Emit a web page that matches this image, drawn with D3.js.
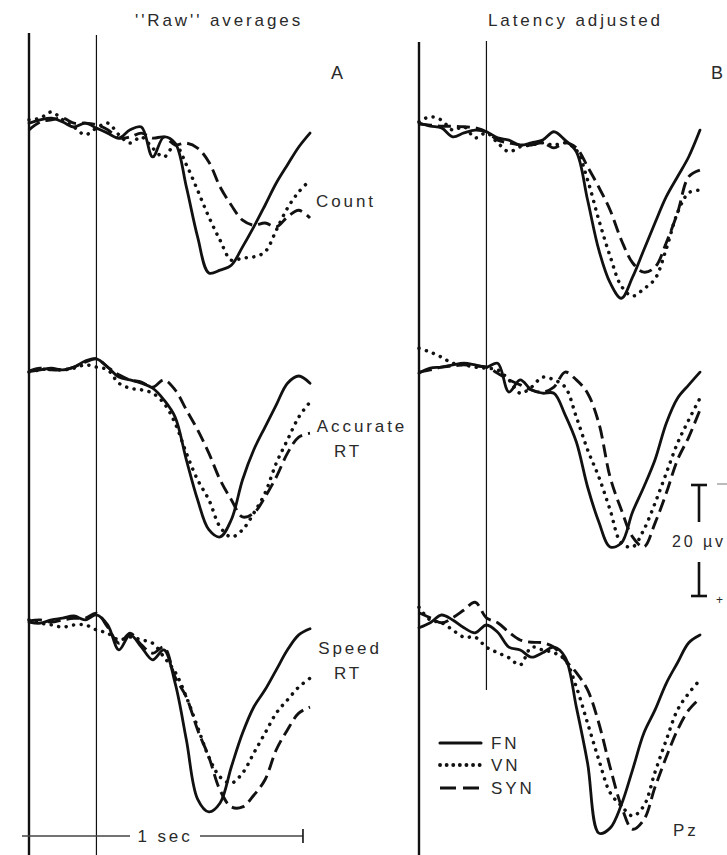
<!DOCTYPE html>
<html><head><meta charset="utf-8">
<script src="https://cdn.jsdelivr.net/npm/d3@7"></script>
<style>
html,body{margin:0;padding:0;background:#fff;}
svg{display:block;}
text{font-family:"Liberation Sans",Arial,sans-serif;fill:#2a2a2a;letter-spacing:2.9px;}
</style></head>
<body><svg id="c" width="727" height="855"></svg>
<script>
// time grid (ms, relative to stimulus onset)
const times = [-240,-200,-160,-120,-80,-40,0,40,80,120,160,200,240,280,320,360,400,440,480,520,560,600,640,680,720,760];

// Panel A, "Raw" averages (µV, positive plotted downward)
const FN_A_count = [0.2,-0.4,-0.7,0,0.9,0.2,1.1,2.0,2.9,1.4,0.9,6.3,2.7,3.8,11.7,20.7,27.2,26.7,25.8,22.5,18.9,15.0,11.0,7.7,4.5,2.0];
const VN_A_count = [-0.4,-0.7,-1.8,-0.4,0.9,2.3,1.1,0.2,2.3,3.8,2.7,4.7,6.3,4.1,7.7,12.3,17.1,21.3,24.9,24.5,24.3,23.4,19.5,15.5,12.6,10.5];
const SYN_A_count = [1.4,0,-0.4,-0.7,0.2,0.2,0.5,1.4,2.9,2.7,2.0,2.9,2.7,4.1,3.8,4.7,7.2,11.7,15.0,17.7,18.6,18.2,18.9,17.1,15.9,17.3];

const FN_A_acc = [0.1,-0.2,-0.5,-0.2,-0.7,-1.8,-2.2,-0.7,1.1,1.6,2.2,3.1,5.2,8.3,16.0,23.2,28.6,29.9,26.8,19.6,14.2,10.1,6.1,2.2,0.9,2.2];
const VN_A_acc = [0.2,-0.2,-0.4,-0.2,-0.5,-1.1,-0.7,-0.2,2.2,3.1,3.4,4.0,5.8,9.4,14.8,19.6,23.2,28.1,29.9,28.6,25.6,22.0,16.6,12.4,8.3,5.6];
const SYN_A_acc = [0,-0.5,-0.2,-0.2,-0.7,-1.6,-2.2,-0.7,0.7,1.6,2.0,2.9,1.6,3.4,7.0,10.6,14.8,19.6,23.2,26.3,25.6,22.7,19.1,14.8,11.9,11.2];

const FN_A_speed = [0.2,0.4,-0.2,-0.5,-0.9,-0.2,-1.1,0.7,5.2,2.5,4.7,7.0,5.2,11.2,21.4,32.1,34.4,32.8,26.3,20.2,15.5,12.4,8.8,5.2,2.5,1.4];
const VN_A_speed = [-0.2,0.4,0.7,1.1,0.7,0.7,1.6,2.2,3.4,2.9,3.4,4.0,6.5,9.2,13.7,19.1,24.5,28.1,29.2,27.4,23.8,20.2,16.6,14.2,11.9,10.3];
const SYN_A_speed = [0,-0.2,0.2,-0.2,-0.5,-0.5,-1.4,1.1,4.0,2.2,4.3,5.8,4.7,10.1,13.7,19.6,24.5,30.5,33.5,33.5,31.4,28.6,23.2,19.6,16.6,15.5];

// Panel B, latency adjusted
const FN_B_count = [-0.2,0.4,0.7,2.3,1.6,1.1,1.4,2.5,2.9,3.8,3.4,2.9,1.4,2.9,5.0,13.7,22.7,28.6,31.4,27.6,22.7,17.8,13.1,9.5,5.9,1.1];
const VN_B_count = [-0.4,-1.3,-0.7,1.1,0.5,2.5,1.6,3.4,5.0,4.1,3.8,3.4,3.8,3.4,4.7,10.1,17.3,23.8,29.2,31.0,29.7,27.9,22.5,16.0,12.4,11.9];
const SYN_B_count = [0,0.2,0.4,0.4,0.5,0.7,1.4,2.9,3.4,3.8,3.8,3.4,4.3,3.4,4.3,7.7,11.4,15.5,20.9,25.0,26.7,25.8,21.4,16.0,9.5,8.3];

const FN_B_acc = [0.4,-0.5,-0.7,-1.1,-1.4,-1.1,-0.7,-1.4,3.8,1.6,3.4,4.0,4.0,7.9,12.8,20.9,27.2,31.7,31.0,25.4,20.9,16.0,9.4,4.9,2.5,0.2];
const VN_B_acc = [-4.1,-3.4,-2.5,-1.4,-1.1,-0.7,-0.5,-0.2,1.6,4.0,2.9,1.1,1.6,2.9,8.3,14.2,19.1,25.0,31.0,31.7,28.6,23.8,18.4,13.0,8.8,4.9];
const SYN_B_acc = [0.2,-0.2,-0.7,-0.9,-1.1,-0.9,-0.7,0.4,1.6,2.5,3.4,3.8,2.9,0.2,1.6,4.0,9.4,19.1,25.0,29.9,31.7,27.4,22.0,16.0,11.9,7.0];

const FN_B_speed = [1.4,0.5,-0.9,0,1.4,2.3,0.9,2.2,4.9,5.4,6.7,5.9,4.9,6.7,15.7,25.8,38.4,37.5,33.3,27.0,20.4,16.2,11.4,7.7,4.1,2.7];
const VN_B_speed = [-2.3,0,0.5,1.8,3.1,3.1,4.9,5.9,6.8,8.1,4.9,5.4,5.9,7.2,12.1,18.6,25.2,31.1,33.5,35.3,33.5,27.4,21.6,16.2,13.2,10.8];
const SYN_B_speed = [-1.3,-0.4,0.5,-0.4,-1.8,-3.2,-0.4,0.5,2.2,3.6,4.0,4.1,4.9,7.2,9.5,12.6,18.6,26.5,33.5,37.7,36.0,30.1,24.7,19.8,16.2,14.1];

const conditions = ["Count","Accurate RT","Speed RT"];
const seriesNames = ["FN","VN","SYN"];
const scaleBarValue = 20; // µV
const timeBarMs = 1000;

const panelA = [[FN_A_count,VN_A_count,SYN_A_count],[FN_A_acc,VN_A_acc,SYN_A_acc],[FN_A_speed,VN_A_speed,SYN_A_speed]];
const panelB = [[FN_B_count,VN_B_count,SYN_B_count],[FN_B_acc,VN_B_acc,SYN_B_acc],[FN_B_speed,VN_B_speed,SYN_B_speed]];

const svg = d3.select("#c");
const ink = "#111";

const xA = d3.scaleLinear().domain([-240,760]).range([29,310]);
const xB = d3.scaleLinear().domain([-240,760]).range([419,700]);
const pxPerUv = 111/20;
const basesA = [122,371,621];
const basesB = [124,371,620];

const styles = {
  FN:{w:2.8,dash:null,cap:"round"},
  VN:{w:3.5,dash:"0.1 7.5",cap:"round"},
  SYN:{w:2.9,dash:"13 6",cap:"butt"}
};

function drawPanel(x, bases, data){
  data.forEach((row,ri)=>{
    const y = d3.scaleLinear().domain([0,20]).range([bases[ri], bases[ri]+20*pxPerUv]);
    const line = d3.line().x((d,i)=>x(times[i])).y(d=>y(d)).curve(d3.curveCatmullRom.alpha(0.5));
    row.forEach((vals,si)=>{
      const st = styles[seriesNames[si]];
      svg.append("path").attr("d",line(vals)).attr("fill","none")
        .attr("stroke",ink).attr("stroke-width",st.w)
        .attr("stroke-linecap",st.cap).attr("stroke-linejoin","round")
        .attr("stroke-dasharray",st.dash);
    });
  });
}

// frame lines
svg.append("line").attr("x1",xA(-240)).attr("x2",xA(-240)).attr("y1",33).attr("y2",855).attr("stroke",ink).attr("stroke-width",2.4);
svg.append("line").attr("x1",xA(0)).attr("x2",xA(0)).attr("y1",35).attr("y2",855).attr("stroke",ink).attr("stroke-width",1.2);
svg.append("line").attr("x1",xB(-240)).attr("x2",xB(-240)).attr("y1",42).attr("y2",855).attr("stroke",ink).attr("stroke-width",2.4);
svg.append("line").attr("x1",xB(0)).attr("x2",xB(0)).attr("y1",41).attr("y2",690).attr("stroke",ink).attr("stroke-width",1.2);

drawPanel(xA, basesA, panelA);
drawPanel(xB, basesB, panelB);

// titles
svg.append("text").attr("x",135).attr("y",26).attr("font-size",17).text("''Raw''  averages");
svg.append("text").attr("x",488).attr("y",26).attr("font-size",17).text("Latency adjusted");
svg.append("text").attr("x",331).attr("y",79).attr("font-size",18).text("A");
svg.append("text").attr("x",711).attr("y",79).attr("font-size",18).attr("letter-spacing","0px").text("B");

// condition labels
svg.append("text").attr("x",316).attr("y",207).attr("font-size",17).text(conditions[0]);
const acc = conditions[1].split(" ");
svg.append("text").attr("x",362).attr("y",432).attr("font-size",17).attr("text-anchor","middle").text(acc[0]);
svg.append("text").attr("x",348).attr("y",457).attr("font-size",17).attr("text-anchor","middle").text(acc[1]);
const spd = conditions[2].split(" ");
svg.append("text").attr("x",350).attr("y",654).attr("font-size",17).attr("text-anchor","middle").text(spd[0]);
svg.append("text").attr("x",348).attr("y",679).attr("font-size",17).attr("text-anchor","middle").text(spd[1]);
svg.append("text").attr("x",673).attr("y",836).attr("font-size",17).text("Pz");

// legend
const legY = [743,765,788];
seriesNames.forEach((n,i)=>{
  const st = styles[n];
  svg.append("line").attr("x1",440).attr("x2",481).attr("y1",legY[i]).attr("y2",legY[i])
    .attr("stroke",ink).attr("stroke-width",st.w+0.3).attr("stroke-linecap",st.cap)
    .attr("stroke-dasharray", n==="VN" ? "0.1 6.5" : (n==="SYN" ? "16 7" : null));
  svg.append("text").attr("x",491).attr("y",legY[i]+6).attr("font-size",17).text(n);
});

// amplitude scale bar (20 µV), negative up
const sbX = 699, sbTop = 485, sbBot = sbTop + scaleBarValue*pxPerUv;
svg.append("line").attr("x1",sbX-8).attr("x2",sbX+8).attr("y1",sbTop).attr("y2",sbTop).attr("stroke",ink).attr("stroke-width",2.6);
svg.append("line").attr("x1",sbX).attr("x2",sbX).attr("y1",sbTop).attr("y2",sbTop+37).attr("stroke",ink).attr("stroke-width",2.6);
svg.append("line").attr("x1",sbX).attr("x2",sbX).attr("y1",sbBot-34).attr("y2",sbBot).attr("stroke",ink).attr("stroke-width",2.6);
svg.append("line").attr("x1",sbX-8).attr("x2",sbX+8).attr("y1",sbBot).attr("y2",sbBot).attr("stroke",ink).attr("stroke-width",2.6);
svg.append("line").attr("x1",717).attr("x2",727).attr("y1",sbTop-1).attr("y2",sbTop-1).attr("stroke","#777").attr("stroke-width",1);
svg.append("text").attr("x",672).attr("y",547).attr("font-size",16).attr("letter-spacing","1px").text(scaleBarValue+" µv");
svg.append("text").attr("x",716).attr("y",604).attr("font-size",12).attr("letter-spacing","0px").text("+");

// time scale bar (1 sec)
const tbY = 836, tb0 = xA(-265), tb1 = xA(-265+timeBarMs);
svg.append("line").attr("x1",tb0).attr("x2",130).attr("y1",tbY).attr("y2",tbY).attr("stroke","#444").attr("stroke-width",1.3);
svg.append("line").attr("x1",200).attr("x2",tb1).attr("y1",tbY).attr("y2",tbY).attr("stroke","#444").attr("stroke-width",1.3);
svg.append("line").attr("x1",tb1).attr("x2",tb1).attr("y1",tbY-7).attr("y2",tbY+7).attr("stroke",ink).attr("stroke-width",1.6);
svg.append("text").attr("x",165).attr("y",842).attr("font-size",17).attr("text-anchor","middle").text("1 sec");
</script></body></html>
